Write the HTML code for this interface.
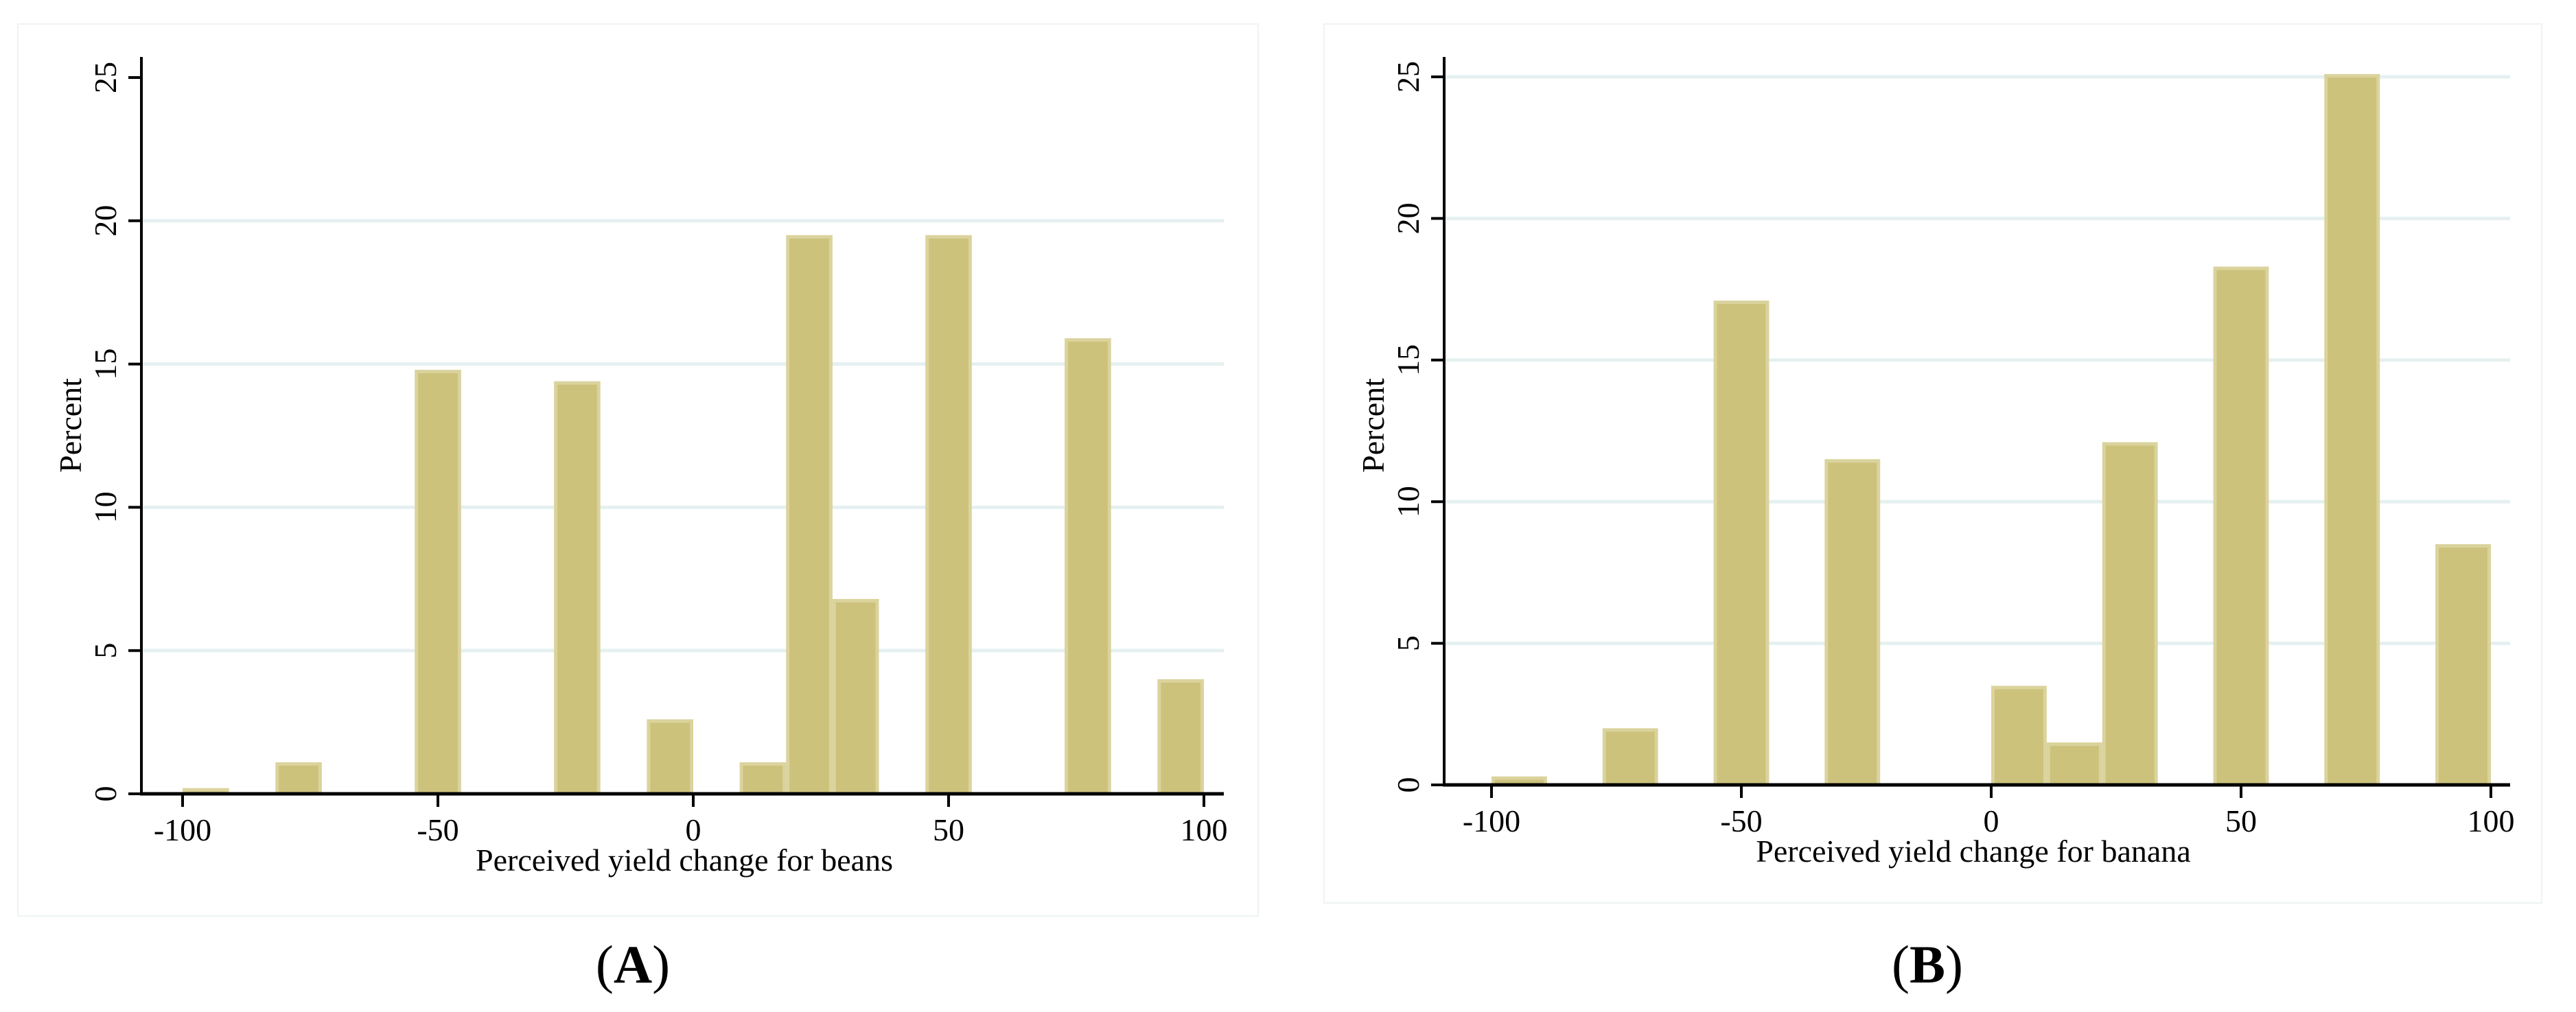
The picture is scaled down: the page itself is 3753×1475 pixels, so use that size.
<!DOCTYPE html>
<html><head><meta charset="utf-8"><style>
body{margin:0;background:#fff;}
svg{display:block;font-family:"Liberation Serif",serif;}
</style></head><body>
<svg id="chart" width="3753" height="1475" viewBox="0 0 3753 1475"></svg>
<script>
const beansBins=[0,2,5,8,10,12,13,14,16,19,21];
const beansVals=[0.2,1.1,14.8,14.4,2.6,1.1,19.5,6.8,19.5,15.9,4.0];
const bananaBins=[0,2,4,6,9,10,11,13,15,17];
const bananaVals=[0.3,2.0,17.1,11.5,3.5,1.5,12.1,18.3,25.1,8.5];
const xTicks=[-100,-50,0,50,100];
const yTicks=[0,5,10,15,20,25];
const NS="http://www.w3.org/2000/svg";
const svg=document.getElementById('chart');
function mk(t,a,p){const e=document.createElementNS(NS,t);for(const k in a)e.setAttribute(k,a[k]);(p||svg).appendChild(e);return e;}
function panel(cfg){
  const g=mk('g',{});
  
  
  const fr=mk('rect',{x:cfg.fx0,y:35,width:cfg.fx1-cfg.fx0,height:cfg.fy1-35,fill:'none',stroke:'#eef3f3','stroke-width':2},g);
  
  
  const X=v=>cfg.x0+(v+100)/200*(cfg.x1-cfg.x0);
  const Y=v=>cfg.base-v/25*(cfg.base-cfg.top25);
  yTicks.forEach(t=>{
    if(t>0&&(t<25||cfg.grid25)){const l=mk('line',{x1:cfg.ax,x2:cfg.axEnd,y1:Y(t),y2:Y(t),stroke:'#e6f0f0','stroke-width':5},g);
    
    }
  });
  const bw=200/cfg.nb;
  cfg.bins.forEach((b,i)=>{
    const v=cfg.vals[i];const xa=X(-100+b*bw),xb=X(-100+(b+1)*bw);
    const r=mk('rect',{x:xa+2.5,y:Y(v)+2.5,width:xb-xa-5,height:cfg.base-Y(v)-2.5,fill:'#ccc27c',stroke:'#dbd39d','stroke-width':5},g);
    
    
  });
  const ya=mk('line',{x1:cfg.ax,x2:cfg.ax,y1:83,y2:cfg.base+2,stroke:'#000','stroke-width':4},g);
  
  
  const xa=mk('line',{x1:cfg.ax-2,x2:cfg.axEnd,y1:cfg.base,y2:cfg.base,stroke:'#000','stroke-width':5},g);
  
  
  xTicks.forEach(t=>{
    const l=mk('line',{x1:X(t),x2:X(t),y1:cfg.base,y2:cfg.base+19,stroke:'#000','stroke-width':4},g);
    
    
    const tx=mk('text',{x:X(t),y:cfg.base+68,'font-size':46,'text-anchor':'middle'},g);
    tx.textContent=t;
    
    
  });
  yTicks.forEach(t=>{
    const l=mk('line',{x1:cfg.ax-19,x2:cfg.ax,y1:Y(t),y2:Y(t),stroke:'#000','stroke-width':4},g);
    
    
    const tx=mk('text',{x:cfg.ax-37,y:Y(t),'font-size':46,'text-anchor':'middle',transform:`rotate(-90 ${cfg.ax-37} ${Y(t)})`},g);
    tx.textContent=t;
    
    
  });
  const yt=mk('text',{x:cfg.ax-88,y:620,'font-size':46,'text-anchor':'middle',transform:`rotate(-90 ${cfg.ax-88} 620)`},g);
  yt.textContent='Percent';
  
  
  const xt=mk('text',{x:cfg.xtx,y:cfg.base+112,'font-size':46,'text-anchor':'middle'},g);
  xt.textContent=cfg.xtitle;
  
  
  const pl=mk('text',{x:cfg.lx,y:1432,'font-size':78,'text-anchor':'middle'},g);
  pl.innerHTML='(<tspan font-weight="bold">'+cfg.letter+'</tspan>)';
  
  
}
panel({name:'panel-a-beans',bins:beansBins,vals:beansVals,nb:22,x0:266,x1:1754,base:1157,top25:113,ax:206,axEnd:1783,fx0:26,fx1:1833,fy1:1335,grid25:false,xtitle:'Perceived yield change for beans',xtx:997,lx:922,letter:'A'});
panel({name:'panel-b-banana',bins:bananaBins,vals:bananaVals,nb:18,x0:2173,x1:3629,base:1144,top25:112,ax:2104,axEnd:3657,fx0:1929,fx1:3703,fy1:1316,grid25:true,xtitle:'Perceived yield change for banana',xtx:2875,lx:2808,letter:'B'});
</script>
</body></html>
